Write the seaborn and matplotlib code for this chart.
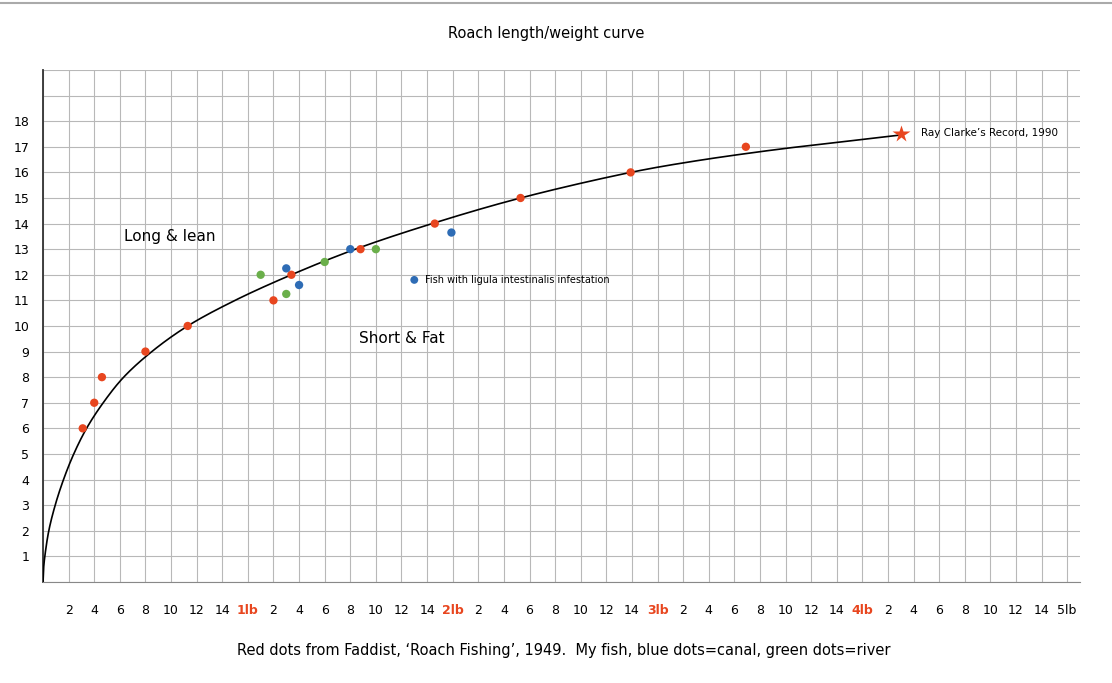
import numpy as np
import matplotlib
matplotlib.use("Agg")
import matplotlib.pyplot as plt
import pandas as pd
import seaborn as sns

# weights in ounces, lengths in inches
red_oz = [3.1, 4.0, 4.6, 8.0, 11.3, 18.0, 19.4, 24.8, 30.6, 37.3, 45.9, 54.9]
red_len = [6, 7, 8, 9, 10, 11, 12, 13, 14, 15, 16, 17]
blue_oz = [19.0, 20.0, 24.0, 31.9]
blue_len = [12.25, 11.6, 13.0, 13.65]
green_oz = [17.0, 19.0, 22.0, 26.0]
green_len = [12.0, 11.25, 12.5, 13.0]
record_oz = 67.0
record_len = 17.5

# curve
curve_oz = [0, 0.04, 0.14, 0.45, 0.95, 1.6, 2.4, 3.4, 4.7, 6.3, 8.5, 11.3,
            15.0, 19.4, 24.4, 30.4, 37.3, 45.9, 51.0, 57.4, 62.0, 66.8]
curve_len = [0, 0.5, 1, 2, 3, 4, 5, 6, 7, 8, 9, 10,
             11, 12, 13, 14, 15, 16, 16.45, 16.9, 17.17, 17.45]

RED = "#e8461f"
BLUE = "#2e6cb5"
GREEN = "#6aaf4a"


def smooth_line(xs, ys, n=30):
    # centripetal catmull-rom through the read points, in pixel-ish units
    p = np.column_stack([np.array(xs) * 12.8, np.array(ys) * 25.6])
    p = np.vstack([2 * p[0] - p[1], p, 2 * p[-1] - p[-2]])
    out = []
    for i in range(1, len(p) - 2):
        p0, p1, p2, p3 = p[i - 1], p[i], p[i + 1], p[i + 2]
        t0 = 0.0
        t1 = t0 + np.linalg.norm(p1 - p0) ** 0.5
        t2 = t1 + np.linalg.norm(p2 - p1) ** 0.5
        t3 = t2 + np.linalg.norm(p3 - p2) ** 0.5
        t = np.linspace(t1, t2, n)[:, None]
        a1 = (t1 - t) / (t1 - t0) * p0 + (t - t0) / (t1 - t0) * p1
        a2 = (t2 - t) / (t2 - t1) * p1 + (t - t1) / (t2 - t1) * p2
        a3 = (t3 - t) / (t3 - t2) * p2 + (t - t2) / (t3 - t2) * p3
        b1 = (t2 - t) / (t2 - t0) * a1 + (t - t0) / (t2 - t0) * a2
        b2 = (t3 - t) / (t3 - t1) * a2 + (t - t1) / (t3 - t1) * a3
        c = (t2 - t) / (t2 - t1) * b1 + (t - t1) / (t2 - t1) * b2
        out.append(c)
    out = np.vstack(out)
    return out[:, 0] / 12.8, out[:, 1] / 25.6


sns.set_style("white")
plt.rcParams['font.family'] = ['DejaVu Sans']
plt.rcParams['text.color'] = 'black'
plt.rcParams['xtick.color'] = 'black'
plt.rcParams['ytick.color'] = 'black'

fig = plt.figure(figsize=(11.12, 6.83), dpi=100)
ax = fig.add_axes([0.0387, 0.148, 0.9325, 0.7495])

sx, sy = smooth_line(curve_oz, curve_len)
curve = pd.DataFrame({'oz': sx, 'len': sy})
sns.lineplot(data=curve, x='oz', y='len', sort=False, color='black', lw=1.2, ax=ax, zorder=3)

for xs, ys, c in [(red_oz, red_len, RED), (blue_oz, blue_len, BLUE), (green_oz, green_len, GREEN)]:
    sns.scatterplot(x=xs, y=ys, color=c, s=36, edgecolor='none', ax=ax, zorder=4)

ax.plot([record_oz], [record_len], marker='*', color=RED, ms=13, mec='none', zorder=5)
ax.text(68.6, 17.55, "Ray Clarke’s Record, 1990", fontsize=7.5, va='center')

sns.scatterplot(x=[29.0], y=[11.8], color=BLUE, s=32, edgecolor='none', ax=ax, zorder=4)
ax.text(29.8, 11.8, "Fish with ligula intestinalis infestation", fontsize=7, va='center')

ax.text(9.9, 13.5, "Long & lean", fontsize=11, ha='center', va='center')
ax.text(28.0, 9.5, "Short & Fat", fontsize=11, ha='center', va='center')

ax.set_xlim(0, 81)
ax.set_ylim(0, 20)

xt = np.arange(0, 82, 2)
ax.set_xticks(xt)
labels = []
for t in xt:
    if t == 0:
        labels.append('')
    elif t % 16 == 0:
        labels.append(f"{t // 16}lb")
    else:
        labels.append(str(t % 16))
ax.set_xticklabels(labels, fontsize=9)
for t, lab in zip(xt, ax.get_xticklabels()):
    if t % 16 == 0 and 0 < t < 80:
        lab.set_color(RED)
        lab.set_fontweight('bold')

yt = np.arange(0, 21, 1)
ax.set_yticks(yt)
ax.set_yticklabels([str(v) if 1 <= v <= 18 else '' for v in yt], fontsize=9)

ax.tick_params(axis='both', length=0)
ax.tick_params(axis='x', pad=16)
ax.tick_params(axis='y', pad=10)
ax.grid(True, color='#b8b8b8', lw=0.8)
ax.set_axisbelow(True)
for s in ['top', 'right']:
    ax.spines[s].set_visible(False)
ax.spines['left'].set_color('#333333')
ax.spines['left'].set_linewidth(1.3)
ax.spines['bottom'].set_color('#888888')
ax.spines['bottom'].set_linewidth(0.8)
ax.set_xlabel('')
ax.set_ylabel('')

fig.text(0.491, 0.951, "Roach length/weight curve", fontsize=10.5, ha='center', va='center')
fig.text(0.507, 0.048, "Red dots from Faddist, ‘Roach Fishing’, 1949.  My fish, blue dots=canal, green dots=river",
         fontsize=10.5, ha='center', va='center')
fig.add_artist(plt.Line2D([0, 1], [0.996, 0.996], color='#aaaaaa', lw=1.5, transform=fig.transFigure))

fig.savefig("out.png", dpi=100)
